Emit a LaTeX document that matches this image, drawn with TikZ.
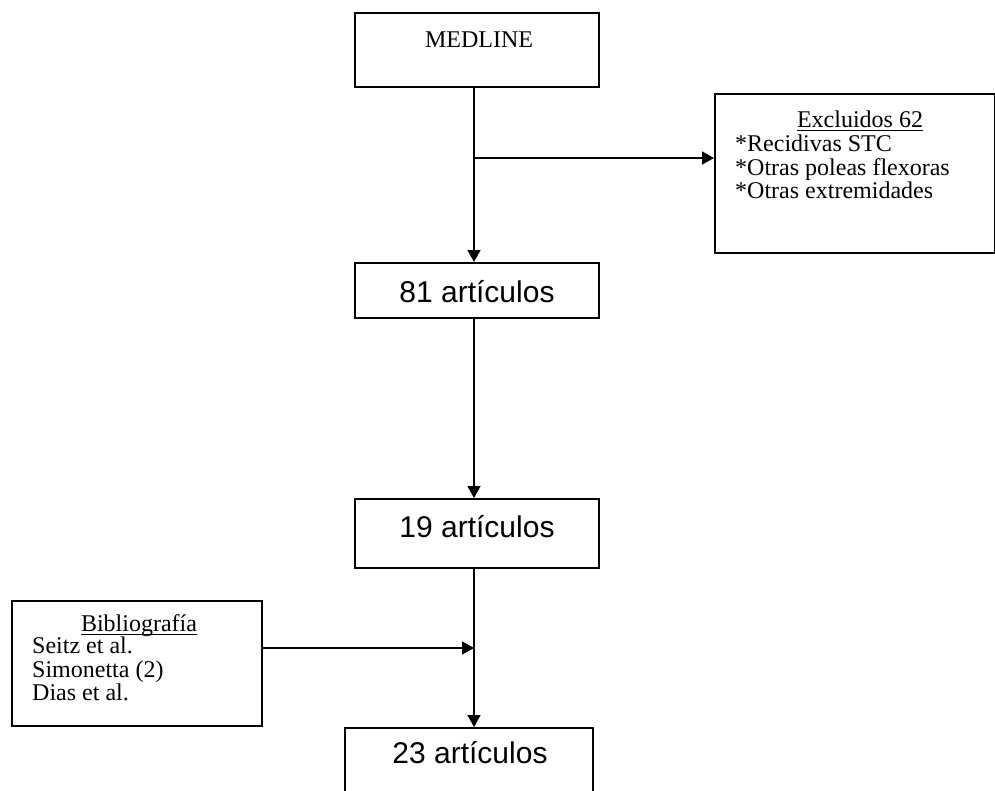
\documentclass[tikz,border=0pt]{standalone}
\usepackage{fontspec}
\setmainfont{Liberation Serif}
\newfontfamily\arialfont{Liberation Sans}
\usetikzlibrary{arrows.meta}
\newcommand\myul[1]{\setbox0\hbox{#1}\rlap{\rule[-3.5pt]{\wd0}{1pt}}\box0}
\tikzset{
  box/.style={draw=black, line width=1.5pt, anchor=north west, inner sep=0pt},
  arr/.style={line width=1.5pt, -{Triangle[width=13pt,length=12pt]}},
  serif/.style={font=\fontsize{24}{25}\selectfont, inner sep=0pt},
  big/.style={font=\arialfont\fontsize{30}{31}\selectfont, inner sep=0pt, anchor=base},
}
\begin{document}
\begin{tikzpicture}[x=1pt,y=-1pt]
\useasboundingbox (0,0) rectangle (995,790);
% boxes
\node[box, minimum width=244pt, minimum height=74pt] (med) at (354,12) {};
\node[box, minimum width=280pt, minimum height=159pt] (excl) at (714,93) {};
\node[box, minimum width=244pt, minimum height=55pt] (n81) at (354,262) {};
\node[box, minimum width=244pt, minimum height=69pt] (n19) at (354,498) {};
\node[box, minimum width=250pt, minimum height=125pt] (bib) at (11,600) {};
\node[box, minimum width=248pt, minimum height=90pt] (n23) at (344,727) {};
% texts
\node[font=\fontsize{24}{26}\selectfont, inner sep=0pt, anchor=base] (tmed) at (479,47) {MEDLINE};
\node[serif, anchor=base] (te0) at (860,127) {\myul{Excluidos 62}};
\node[serif, anchor=base west] (te1) at (735,151) {*Recidivas STC};
\node[serif, anchor=base west] (te2) at (735,175) {*Otras poleas flexoras};
\node[serif, anchor=base west] (te3) at (735,198) {*Otras extremidades};
\node[big] (t81) at (477,302) {81 artículos};
\node[big] (t19) at (477,537) {19 artículos};
\node[big] (t23) at (470,763) {23 artículos};
\node[serif, anchor=base] (tb0) at (139,631) {\myul{Bibliografía}};
\node[serif, anchor=base west] (tb1) at (32,653) {Seitz et al.};
\node[serif, anchor=base west] (tb2) at (32,677) {Simonetta (2)};
\node[serif, anchor=base west] (tb3) at (32,700) {Dias et al.};
% connectors
\coordinate (spine) at (474,0);
\coordinate (b1) at (474,158);
\coordinate (b2) at (474,648);
\draw[arr] (med.south -| spine) -- (n81.north -| spine);
\draw[arr] (b1) -- (excl.west |- b1);
\draw[arr] (n81.south -| spine) -- (n19.north -| spine);
\draw[arr] (n19.south -| spine) -- (n23.north -| spine);
\draw[arr] (bib.east |- b2) -- (b2);
\end{tikzpicture}
\end{document}
